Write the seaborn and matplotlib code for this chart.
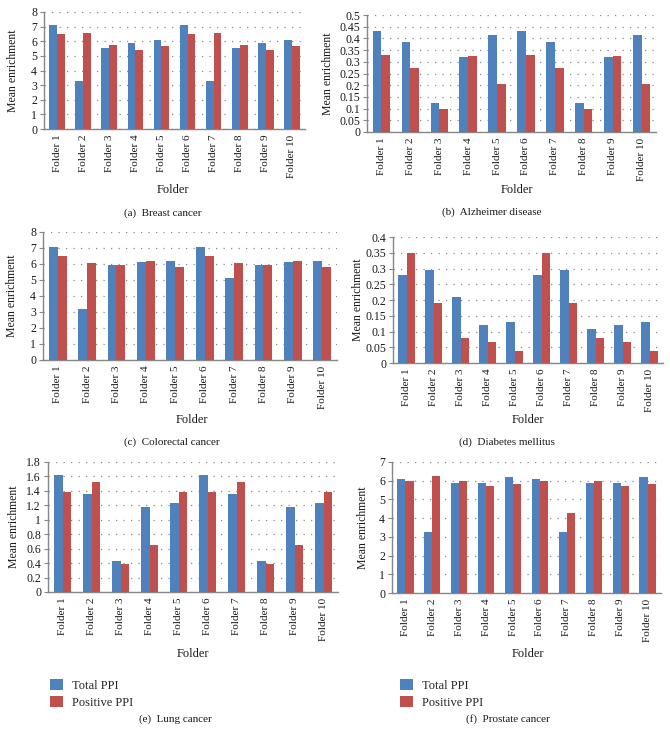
import matplotlib
matplotlib.use("Agg")
import matplotlib.pyplot as plt
import seaborn as sns
import pandas as pd
import numpy as np

folders = [f"Folder {i}" for i in range(1, 11)]
series_names = ["Total PPI", "Positive PPI"]

breast_total = [7.1, 3.3, 5.57, 5.91, 6.07, 7.1, 3.3, 5.57, 5.91, 6.07]
breast_pos = [6.47, 6.57, 5.75, 5.39, 5.7, 6.47, 6.57, 5.75, 5.39, 5.7]

alz_total = [0.431, 0.383, 0.123, 0.321, 0.414, 0.431, 0.383, 0.123, 0.321, 0.414]
alz_pos = [0.329, 0.274, 0.099, 0.324, 0.207, 0.329, 0.274, 0.099, 0.324, 0.207]

colo_total = [7.04, 3.16, 5.96, 6.1, 6.2, 7.04, 5.14, 5.96, 6.1, 6.2]
colo_pos = [6.5, 6.08, 5.95, 6.16, 5.83, 6.5, 6.08, 5.95, 6.16, 5.83]

diab_total = [0.279, 0.296, 0.21, 0.121, 0.131, 0.279, 0.296, 0.109, 0.121, 0.131]
diab_pos = [0.35, 0.19, 0.08, 0.066, 0.038, 0.35, 0.19, 0.08, 0.066, 0.038]

lung_total = [1.62, 1.354, 0.43, 1.18, 1.226, 1.62, 1.354, 0.43, 1.18, 1.226]
lung_pos = [1.386, 1.53, 0.39, 0.645, 1.39, 1.386, 1.53, 0.39, 0.645, 1.39]

pros_total = [6.1, 3.26, 5.89, 5.89, 6.2, 6.1, 3.26, 5.89, 5.89, 6.2]
pros_pos = [6.0, 6.27, 5.98, 5.71, 5.84, 6.0, 4.27, 5.98, 5.71, 5.84]

captions = ["(a)  Breast cancer", "(b)  Alzheimer disease", "(c)  Colorectal cancer",
            "(d)  Diabetes mellitus", "(e)  Lung cancer", "(f)  Prostate cancer"]
ymaxes = [8, 0.5, 8, 0.4, 1.8, 7]
ysteps = [1, 0.05, 1, 0.05, 0.2, 1]
datasets = [(breast_total, breast_pos), (alz_total, alz_pos), (colo_total, colo_pos),
            (diab_total, diab_pos), (lung_total, lung_pos), (pros_total, pros_pos)]

sns.set_theme(style="white")
plt.rcParams["font.family"] = ["Liberation Serif", "DejaVu Serif"]

W, H = 670, 732
fig = plt.figure(figsize=(W / 100, H / 100), dpi=100)

# axes pixel boxes: left, right, top, bottom
boxes = [(44, 305, 12, 129), (367, 656, 15, 132),
         (43, 337, 232, 360), (393, 663, 237, 363),
         (48, 338, 462, 592), (392, 661, 462, 593)]
ylabel_x = [19, 334, 18, 364, 20, 369]
xlabel_pos = [(173, 190), (517, 190), (192, 420), (528, 420), (193, 654), (528, 654)]
caption_pos = [(163, 213), (492, 212), (172, 442), (507, 442), (175, 719), (508, 719)]

blue = "#4F81BD"
red = "#C0504D"
spine_c = "#868686"
txt_c = "#1a1a1a"

for i, (tot, pos) in enumerate(datasets):
    l, r, t, b = boxes[i]
    ax = fig.add_axes([l / W, 1 - b / H, (r - l) / W, (b - t) / H])
    df = pd.DataFrame({
        "Folder": folders * 2,
        "Series": [series_names[0]] * 10 + [series_names[1]] * 10,
        "Value": list(tot) + list(pos),
    })
    sns.barplot(data=df, x="Folder", y="Value", hue="Series",
                palette=[blue, red], saturation=1, width=0.6, ax=ax,
                edgecolor="none", linewidth=0, legend=(i >= 4), zorder=3)
    ax.set_xlim(-0.5, 9.5)
    ax.set_ylim(0, ymaxes[i])
    n = int(round(ymaxes[i] / ysteps[i]))
    ticks = [round(k * ysteps[i], 4) for k in range(n + 1)]
    ax.set_yticks(ticks)
    ax.set_yticklabels([f"{v:g}" for v in ticks])
    ax.yaxis.grid(True, linestyle=(0, (1, 5)), color="#8a8a8a", linewidth=0.9, zorder=0)
    ax.xaxis.grid(False)
    ax.set_axisbelow(True)
    for s in ["top", "right"]:
        ax.spines[s].set_visible(False)
    for s in ["left", "bottom"]:
        ax.spines[s].set_color(spine_c)
        ax.spines[s].set_linewidth(1.0)
    ax.tick_params(axis="y", left=True, length=3, width=0.8, color=spine_c,
                   labelsize=8.5, pad=2, labelcolor=txt_c)
    ax.tick_params(axis="x", bottom=False, length=0, labelsize=8, pad=4,
                   labelrotation=90, labelcolor=txt_c)
    ax.set_xlabel("")
    ax.set_ylabel("Mean enrichment", fontsize=8.5, color=txt_c)
    ax.yaxis.set_label_coords(ylabel_x[i] / W, 1 - ((t + b) / 2) / H,
                              transform=fig.transFigure)
    fx, fy = xlabel_pos[i]
    fig.text(fx / W, 1 - fy / H, "Folder", fontsize=9, ha="center", va="center",
             color=txt_c)
    cx, cy = caption_pos[i]
    fig.text(cx / W, 1 - cy / H, captions[i], fontsize=8, ha="center", va="center",
             color=txt_c)
    if i >= 4:
        lx = 44 if i == 4 else 394
        sns.move_legend(ax, loc="upper left", bbox_to_anchor=(lx / W, 1 - 673 / H),
                        bbox_transform=fig.transFigure, frameon=False, title=None,
                        fontsize=9, handlelength=1.0, handleheight=1.0,
                        handletextpad=0.7, labelspacing=0.3, borderpad=0)

fig.savefig("out.png", dpi=100)
